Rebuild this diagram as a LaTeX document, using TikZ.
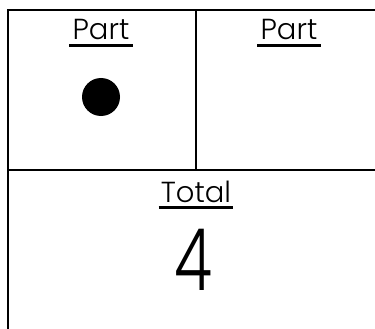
\documentclass[tikz,border=0pt]{standalone}
\usepackage{fontspec}
\setmainfont{Poppins}[UprightFont=* Light]
\usetikzlibrary{calc}
\begin{document}
\begin{tikzpicture}[x=1pt,y=-1pt,
  frame/.style={line width=2.2pt,black},
  lbl/.style={inner sep=0pt,anchor=base,font=\fontsize{29}{29}\selectfont},
  uline/.style={line width=2.4pt,black},
  num/.style={inner sep=0pt,font=\fontsize{86}{86}\selectfont}]
\useasboundingbox (0,0) rectangle (375,329);
\begin{scope}
\clip (0,0) rectangle (375,329);
\coordinate (tl) at (8,10);
\coordinate (tr) at (385,10);
\coordinate (bl) at (8,340);
\coordinate (ml) at (8,170);
\coordinate (mr) at (385,170);
\coordinate (dt) at (196,10);
\coordinate (db) at (196,170);
\draw[frame] (tr) -- (tl) -- (bl);
\draw[frame] (ml) -- (mr);
\draw[frame] (dt) -- (db);
\end{scope}
\node[lbl] (p1) at (101,40) {Part};
\node[lbl] (p2) at (289,40) {Part};
\node[lbl] (tot) at (196,202) {Total};
\draw[uline] ($(p1.base west)+(-3,5.5)$) -- ($(p1.base east)+(3,5.5)$);
\draw[uline] ($(p2.base west)+(-3,5.5)$) -- ($(p2.base east)+(3,5.5)$);
\draw[uline] ($(tot.base west)+(-2,5.5)$) -- ($(tot.base east)+(2,5.5)$);
\fill[black] (101,97) circle (19);
\node[num,xscale=0.72] (four) at (193,260) {4};
\end{tikzpicture}
\end{document}
